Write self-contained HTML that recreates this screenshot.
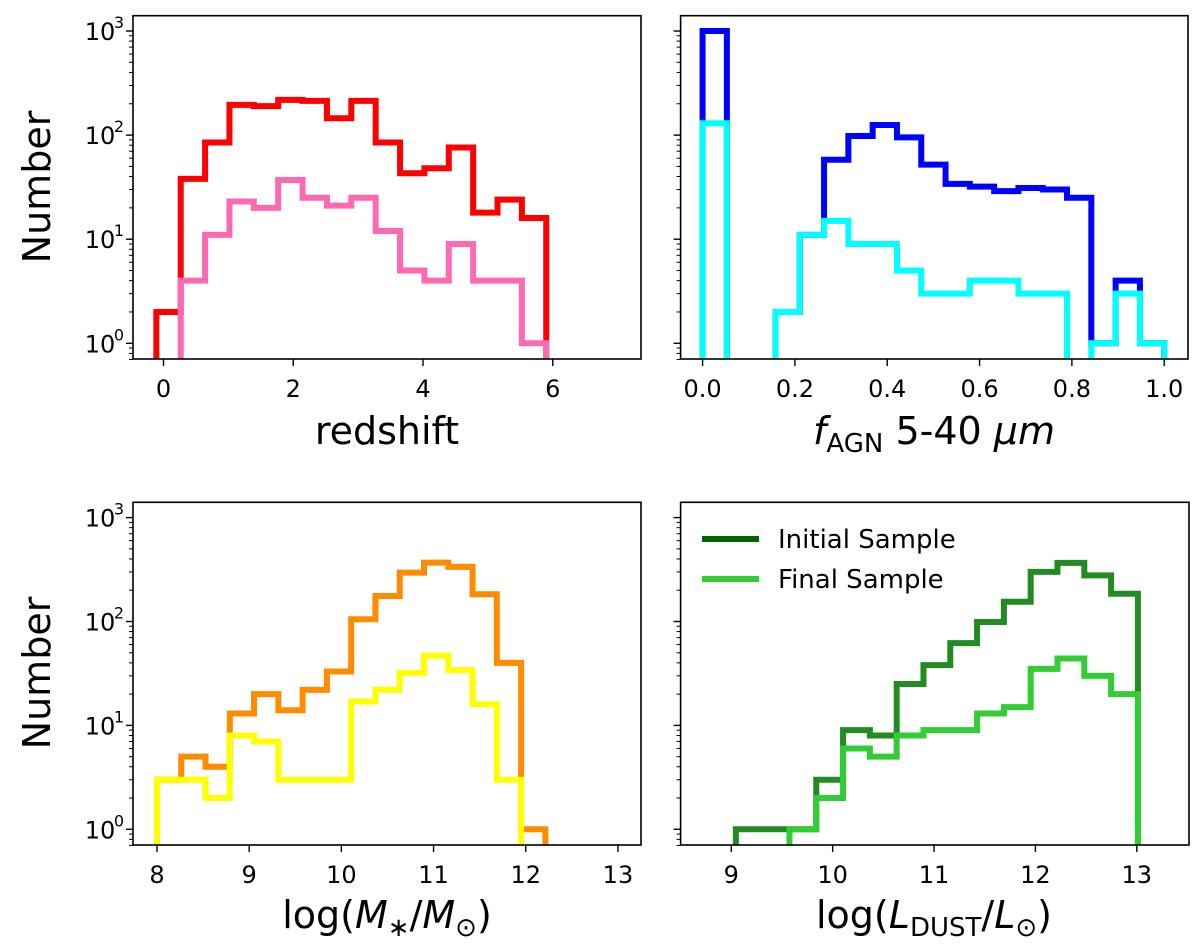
<!DOCTYPE html>
<html><head><meta charset="utf-8"><style>
body{margin:0;background:#fff}
svg{display:block;font-family:"DejaVu Sans","Liberation Sans",sans-serif}
</style></head><body>
<svg id="fig" width="1200" height="948" viewBox="0 0 1200 948" xmlns="http://www.w3.org/2000/svg"></svg>
<script>
// ---- data ----
const zEdges0 = -0.11, zWidth = 0.3756;
const zInitial = [2,38,85,195,190,218,213,145,213,85,43,48,76,18,24,16];
const zFinal   = [0,4,11,23,20,37,25,21,25,12,5,4,9,4,4,1];
const zTicks = [0,2,4,6];

const fEdges0 = 0, fWidth = 1/19;
const fInitial = [1000,0,0,2,11,58,98,125,95,52,34,32,29,31,30,25,1,4,1];
const fFinal   = [130,0,0,2,11,15,9,9,5,3,3,4,4,3,3,0,1,3,1];
const fTicks = ["0.0","0.2","0.4","0.6","0.8","1.0"];

const mEdges0 = 8.0, mWidth = 0.2633;
const mInitial = [3,5,4,13,20,14,22,33,105,176,295,369,336,183,40,1];
const mFinal   = [3,3,2,8,7,3,3,3,17,22,32,47,34,16,3,0];
const mTicks = [8,9,10,11,12,13];

const dEdges0 = 9.045, dWidth = 0.2644;
const dInitial = [1,1,1,3,9,8,25,38,62,99,155,300,367,278,185];
const dFinal   = [0,0,1,2,6,5,8,9,9,13,15,35,44,30,20];
const dTicks = [9,10,11,12,13];

const yTickLabels = ["0","1","2","3"];

// ---- drawing ----
const NS="http://www.w3.org/2000/svg";
const svgRoot=document.getElementById('fig');
function el(tag,attrs,parent){const e=document.createElementNS(NS,tag);for(const k in attrs)e.setAttribute(k,attrs[k]);(parent||svgRoot).appendChild(e);return e;}

function makeAxis(cfg){
  const {L,R,T,B,xmin,xmax,y0px,dec,id}=cfg;
  const xs=v=>L+(v-xmin)/(xmax-xmin)*(R-L);
  const ys=v=>v<=0? B+20 : y0px - Math.log10(v)*dec;
  const g=el('g',{});
  
  
  const cp=el('clipPath',{id:'cp-'+id},g);
  el('rect',{x:L,y:T,width:R-L,height:B-T},cp);
  return {xs,ys,g,cfg};
}
function drawHist(ax,edge0,w,vals,color,name){
  const {xs,ys,g}=ax;
  let d='M'+xs(edge0)+','+ys(0);
  vals.forEach((v,i)=>{
    d+=' L'+xs(edge0+i*w)+','+ys(v)+' L'+xs(edge0+(i+1)*w)+','+ys(v);
  });
  d+=' L'+xs(edge0+vals.length*w)+','+ys(0);
  const p=el('path',{d:d,fill:'none',stroke:color,'stroke-width':6,'stroke-linejoin':'miter','clip-path':'url(#cp-'+ax.cfg.id+')'},g);
  
  
}
function drawFrame(ax,xticks,xtickVals,showYLabels){
  const {L,R,T,B,y0px,dec,id}=ax.cfg;const g=ax.g;
  const fr=el('rect',{x:L,y:T,width:R-L,height:B-T,fill:'none',stroke:'#000','stroke-width':1.6},g);
  
  
  xtickVals.forEach((v,i)=>{
    const x=ax.xs(v);
    el('line',{x1:x,y1:B,x2:x,y2:B+7,stroke:'#000','stroke-width':1.4},g);
    const t=el('text',{x:x,y:B+38,'text-anchor':'middle','font-size':24,fill:'#000'},g);
    t.textContent=xticks[i];
    
    
  });
  for(let k=-1;k<=3;k++){
    for(let m=1;m<=9;m++){
      const v=m*Math.pow(10,k);const y=y0px-Math.log10(v)*dec;
      if(y<T-0.5||y>B+0.5)continue;
      const len=m===1?7:4;
      el('line',{x1:L-len,y1:y,x2:L,y2:y,stroke:'#000','stroke-width':m===1?1.4:1},g);
      if(m===1&&showYLabels&&k>=0){
        const t=el('text',{x:L-33,y:y+9,'text-anchor':'middle','font-size':24,fill:'#000'},g);
        t.textContent='10';
        
        
        const s=el('text',{x:L-14,y:y-3,'text-anchor':'middle','font-size':16,fill:'#000'},g);
        s.textContent=yTickLabels[k];
      }
    }
  }
}
const topRow={T:15.7,B:359,y0px:343.3,dec:104.1};
const botRow={T:502.3,B:845,y0px:829.3,dec:103.9};
const ax1=makeAxis(Object.assign({id:'redshift',L:133,R:641,xmin:-0.47,xmax:7.36},topRow));
const ax2=makeAxis(Object.assign({id:'fagn',L:680.6,R:1188,xmin:-0.0476,xmax:1.0515},topRow));
const ax3=makeAxis(Object.assign({id:'mass',L:133,R:641,xmin:7.74,xmax:13.25},botRow));
const ax4=makeAxis(Object.assign({id:'ldust',L:680.6,R:1189,xmin:8.5,xmax:13.515},botRow));

drawHist(ax1,zEdges0,zWidth,zInitial,'#ff0000','redshift-initial-hist');
drawHist(ax1,zEdges0,zWidth,zFinal,'#ff69b4','redshift-final-hist');
drawHist(ax2,fEdges0,fWidth,fInitial,'#0000ff','fagn-initial-hist');
drawHist(ax2,fEdges0,fWidth,fFinal,'#00ffff','fagn-final-hist');
drawHist(ax3,mEdges0,mWidth,mInitial,'#ff8c00','mass-initial-hist');
drawHist(ax3,mEdges0,mWidth,mFinal,'#ffff00','mass-final-hist');
drawHist(ax4,dEdges0,dWidth,dInitial,'#228b22','ldust-initial-hist');
drawHist(ax4,dEdges0,dWidth,dFinal,'#32cd32','ldust-final-hist');

drawFrame(ax1,zTicks,zTicks,true);
drawFrame(ax2,fTicks,fTicks.map(Number),false);
drawFrame(ax3,mTicks,mTicks,true);
drawFrame(ax4,dTicks,dTicks,false);
</script>
<svg style="position:absolute;left:0;top:0" width="1200" height="948">
  <g font-family="DejaVu Sans, Liberation Sans, sans-serif" fill="#000">
    <text transform="translate(50,187) rotate(-90)" text-anchor="middle" font-size="38">Number</text>
    <text transform="translate(50,673) rotate(-90)" text-anchor="middle" font-size="38">Number</text>
    <text x="387" y="444" text-anchor="middle" font-size="38">redshift</text>
    <text x="934" y="444" text-anchor="middle" font-size="38"><tspan font-style="italic">f</tspan><tspan font-size="26" dy="8">AGN</tspan><tspan dy="-8"> 5-40 </tspan><tspan font-style="italic">μm</tspan></text>
    <text x="387" y="928" text-anchor="middle" font-size="38">log(<tspan font-style="italic">M</tspan><tspan font-size="26" dy="8">∗</tspan><tspan dy="-8">/</tspan><tspan font-style="italic">M</tspan><tspan font-size="26" dy="8">⊙</tspan><tspan dy="-8">)</tspan></text>
    <text x="934" y="928" text-anchor="middle" font-size="38">log(<tspan font-style="italic">L</tspan><tspan font-size="26" dy="8">DUST</tspan><tspan dy="-8">/</tspan><tspan font-style="italic">L</tspan><tspan font-size="26" dy="8">⊙</tspan><tspan dy="-8">)</tspan></text>
    <g>
      <line x1="702" y1="539" x2="759" y2="539" stroke="#006400" stroke-width="6"/>
      <text x="778" y="548" font-size="26">Initial Sample</text>
      <line x1="702" y1="579" x2="759" y2="579" stroke="#32cd32" stroke-width="6"/>
      <text x="778" y="588" font-size="26">Final Sample</text>
    </g>
  </g>
</svg>
</body></html>
